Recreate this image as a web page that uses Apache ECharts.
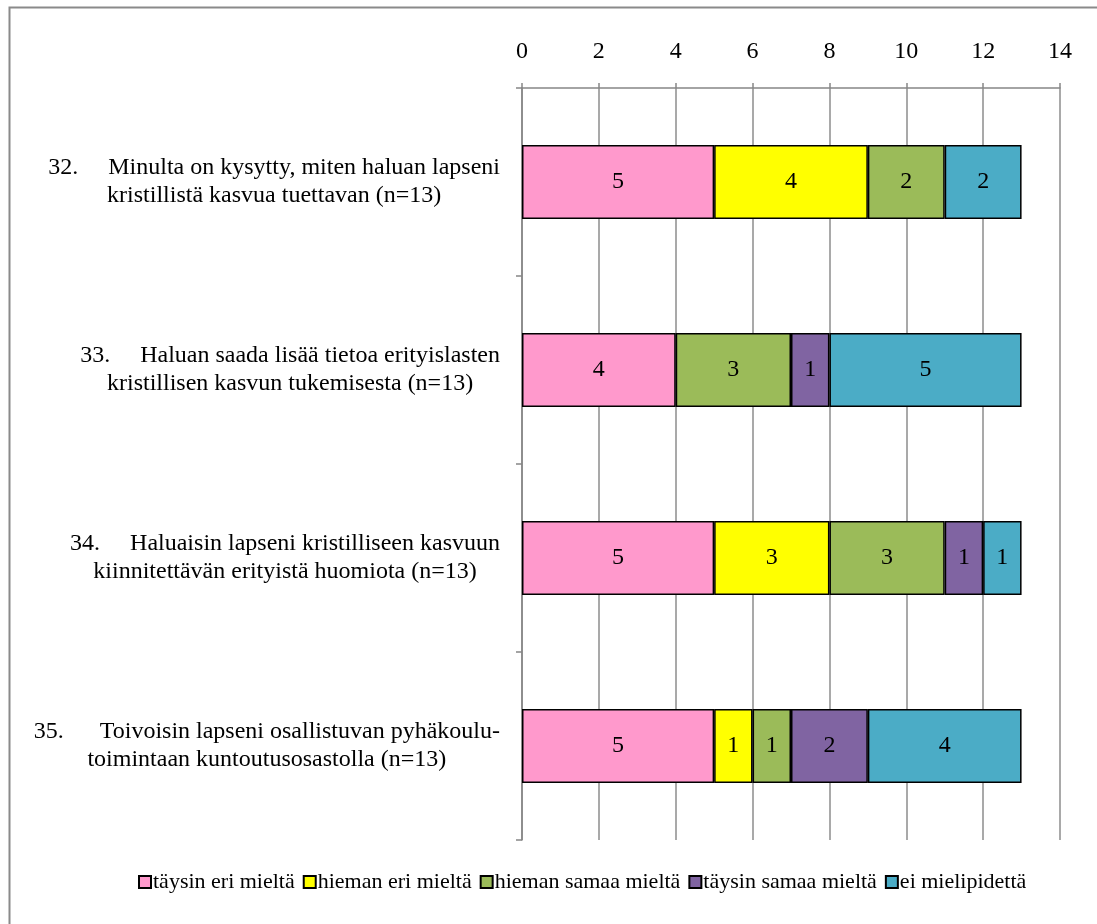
<!DOCTYPE html>
<html>
<head>
<meta charset="utf-8">
<script src="https://cdn.jsdelivr.net/npm/echarts@6/dist/echarts.min.js"></script>
<style>
  html, body { margin: 0; padding: 0; background: #fff; }
  #chart { width: 1097px; height: 924px; }
</style>
</head>
<body>
<div id="chart"></div>
<script>
// Survey statements (two display lines each)
const categories = [
  ['32.     Minulta on kysytty, miten haluan lapseni', 'kristillistä kasvua tuettavan (n=13)'],
  ['33.     Haluan saada lisää tietoa erityislasten', 'kristillisen kasvun tukemisesta (n=13)'],
  ['34.     Haluaisin lapseni kristilliseen kasvuun', 'kiinnitettävän erityistä huomiota (n=13)'],
  ['35.      Toivoisin lapseni osallistuvan pyhäkoulu-', 'toimintaan kuntoutusosastolla (n=13)']
];

const seriesNames = ['täysin eri mieltä', 'hieman eri mieltä', 'hieman samaa mieltä', 'täysin samaa mieltä', 'ei mielipidettä'];

// Answer counts per statement (32..35)
const taysinEri   = [5, 4, 5, 5];
const hiemanEri   = [4, 0, 3, 1];
const hiemanSamaa = [2, 3, 3, 1];
const taysinSamaa = [0, 1, 1, 2];
const eiMielipid  = [2, 5, 1, 4];

const xTicks = [0, 2, 4, 6, 8, 10, 12, 14];

const colors = ['#FF99CC', '#FFFF00', '#9BBB59', '#8064A2', '#4BACC6'];
const values = [taysinEri, hiemanEri, hiemanSamaa, taysinSamaa, eiMielipid];

const FONT = "'Liberation Serif', 'Times New Roman', serif";

const chart = echarts.init(document.getElementById('chart'), null, { renderer: 'canvas' });

const series = seriesNames.map((name, i) => ({
  name: name,
  type: 'bar',
  stack: 'total',
  barWidth: 74,
  data: values[i].map(v => (v === 0 ? null : v)),
  itemStyle: { color: colors[i], borderColor: '#000', borderWidth: 1.5 },
  label: {
    show: true,
    position: 'inside',
    color: '#000',
    fontFamily: FONT,
    fontSize: 24,
    formatter: p => (p.value ? String(p.value) : '')
  },
  emphasis: { disabled: true }
}));

chart.setOption({
  animation: false,
  textStyle: { fontFamily: FONT },
  graphic: [{
    type: 'rect',
    left: 7, top: 5,
    shape: { width: 1200, height: 1000 },
    style: { fill: 'none', stroke: '#8a8a8a', lineWidth: 2 },
    silent: true
  }],
  grid: { left: 522, right: 37, top: 88, bottom: 84, containLabel: false },
  xAxis: {
    type: 'value',
    position: 'top',
    min: xTicks[0],
    max: xTicks[xTicks.length - 1],
    interval: xTicks[1] - xTicks[0],
    axisLine: { show: true, lineStyle: { color: '#868686', width: 1.5 } },
    axisTick: { show: true, inside: false, length: 5, lineStyle: { color: '#868686', width: 1.5 } },
    axisLabel: { color: '#000', fontSize: 24, fontFamily: FONT, margin: 24 },
    splitLine: { show: true, lineStyle: { color: '#8c8c8c', width: 1.5 } }
  },
  yAxis: {
    type: 'category',
    inverse: true,
    data: categories.map(c => c.join('\n')),
    axisLine: { show: true, lineStyle: { color: '#868686', width: 1.5 } },
    axisTick: { show: true, length: 6, lineStyle: { color: '#868686', width: 1.5 } },
    axisLabel: {
      align: 'right',
      margin: 22,
      formatter: v => v.split('\n').map(s => '{t|' + s + '}').join('\n'),
      rich: {
        t: { fontSize: 24, fontFamily: FONT, color: '#000', lineHeight: 28, align: 'center' }
      }
    }
  },
  legend: {
    data: seriesNames,
    bottom: 26,
    left: 133,
    icon: 'rect',
    itemWidth: 12,
    itemHeight: 12,
    itemGap: 8,
    textStyle: { fontSize: 22, fontFamily: FONT, color: '#000', padding: [0, 0, 0, -3] },
    selectedMode: false
  },
  series: series
});
</script>
</body>
</html>
